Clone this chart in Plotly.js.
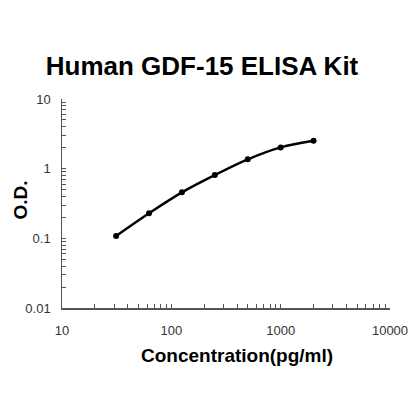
<!DOCTYPE html>
<html><head><meta charset="utf-8">
<script src="https://cdn.plot.ly/plotly-3.0.1.min.js"></script>
<style>html,body{margin:0;padding:0;background:#fff}#c{width:420px;height:420px}</style>
</head><body><div id="c"></div>
<script>
const concentration = [31.25, 62.5, 125, 250, 500, 1000, 2000];
const od = [0.108, 0.229, 0.457, 0.81, 1.36, 2.02, 2.51];
const xTickVals = [10, 100, 1000, 10000];
const xTickText = ['10', '100', '1000', '10000'];
const yTickVals = [0.01, 0.1, 1, 10];
const yTickText = ['0.01', '0.1', '1', '10'];

const trace = {
  x: concentration, y: od, type: 'scatter', mode: 'lines+markers',
  line: {color: '#000', width: 2.5, shape: 'spline'},
  marker: {color: '#000', size: 6}
};
const layout = {
  width: 420, height: 420,
  margin: {l: 62, r: 30, t: 99, b: 112},
  paper_bgcolor: '#fff', plot_bgcolor: '#fff',
  showlegend: false,
  font: {family: 'Liberation Sans, Arial, sans-serif', color: '#333'},
  title: {text: '<b>Human GDF-15 ELISA Kit</b>', font: {size: 26, color: '#000'}, x: 0.481, xanchor: 'center', y: 0.843, yanchor: 'middle'},
  xaxis: {
    type: 'log', range: [1, 4], tickvals: xTickVals, ticktext: xTickText,
    showline: true, linecolor: '#555', linewidth: 1.5, showgrid: false, zeroline: false,
    ticks: 'inside', ticklen: 4, tickcolor: '#555', tickfont: {size: 13, color: '#333'},
    ticklabelstandoff: 10,
    minor: {ticks: 'inside', ticklen: 4, tickcolor: '#555', dtick: 'D1', showgrid: false}
  },
  yaxis: {
    type: 'log', range: [-2, 1], tickvals: yTickVals,
    ticktext: yTickText.map(t => t + '\u00a0\u00a0'),
    showline: true, linecolor: '#555', linewidth: 1.5, showgrid: false, zeroline: false,
    ticks: 'inside', ticklen: 4, tickcolor: '#555', tickfont: {size: 13, color: '#333'},
    minor: {ticks: 'inside', ticklen: 4, tickcolor: '#555', dtick: 'D1', showgrid: false}
  },
  annotations: [
    {text: '<b>Concentration(pg/ml)</b>', xref: 'paper', yref: 'paper', x: 236.5, y: 355, showarrow: false,
     font: {size: 19, color: '#000'}, xanchor: 'center', yanchor: 'middle'},
    {text: '<b>O.D.</b>', xref: 'paper', yref: 'paper', x: 19.5, y: 200, showarrow: false, textangle: -90,
     font: {size: 19, color: '#000'}, xanchor: 'center', yanchor: 'middle'}
  ]
};
// convert pixel positions of annotations into paper fractions
const pw = 420 - 62 - 30, ph = 420 - 99 - 112;
layout.annotations.forEach(a => { a.x = (a.x - 62) / pw; a.y = (420 - 112 - a.y) / ph; });
Plotly.newPlot('c', [trace], layout, {displayModeBar: false, staticPlot: true});
</script></body></html>
